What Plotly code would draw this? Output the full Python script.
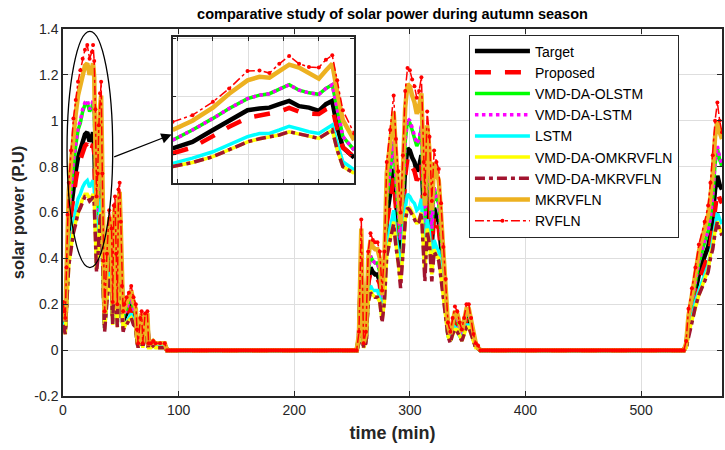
import plotly.graph_objects as go

# ------------------------------------------------------------------ data
seg1_time = [0, 1, 2, 3, 4, 5, 7, 9, 11, 13, 15, 17, 19, 21, 23, 25, 26, 27, 28, 29, 30, 31, 32, 33, 34, 35, 36,
             38, 40, 42, 43, 44, 45, 46, 47, 48, 49, 50, 51, 52, 53, 55, 57, 59, 61, 63, 64, 65, 67, 68, 69,
             71, 73, 74, 76, 78, 80, 84, 88, 90]
seg2_time = [254, 256, 258, 260, 262, 264, 266, 268, 270, 272, 274, 276, 278, 280, 283, 286, 288, 290, 292,
             294, 296, 298, 300, 302, 304, 306, 308, 310, 312, 313, 315, 317, 319, 321, 323, 325, 327, 329,
             331, 333, 335, 337, 339, 341, 343, 345, 347, 349, 351, 353, 355, 357, 359, 361]
seg3_time = [537, 539, 541, 544, 547, 550, 555, 558, 560, 562, 564, 566, 568, 570]
night1_time = list(range(92, 254, 2))
night2_time = list(range(363, 537, 2))

target_1 = [0.15, 0.12, 0.10, 0.25, 0.42, 0.52, 0.62, 0.72, 0.78, 0.84, 0.87, 0.91, 0.94, 0.95, 0.91, 0.93, 0.95, 0.90, 0.75, 0.48, 0.55, 0.70, 0.80, 0.84, 0.55, 0.28, 0.12,
            0.30, 0.44, 0.38, 0.15, 0.45, 0.48, 0.30, 0.14, 0.50, 0.52, 0.40, 0.20, 0.12, 0.14, 0.16, 0.18, 0.20, 0.16, 0.14, 0.06, 0.02, 0.10, 0.12, 0.02, 0.11, 0.12, 0.02, 0.02, 0.03, 0.02, 0.02, 0.02, 0.00]
target_2 = [0.00, 0.05, 0.40, 0.02, 0.05, 0.30, 0.36, 0.34, 0.33, 0.33, 0.30, 0.18, 0.30, 0.58, 0.68, 0.79, 0.65, 0.55, 0.42, 0.60, 0.80, 0.88, 0.87, 0.84, 0.82, 0.78, 0.80,
            0.85, 0.58, 0.48, 0.74, 0.66, 0.46, 0.62, 0.58, 0.56, 0.45, 0.32, 0.22, 0.08, 0.05, 0.10, 0.13, 0.12, 0.08, 0.06, 0.10, 0.14, 0.14, 0.10, 0.05, 0.02, 0.01, 0.00]
target_3 = [0.00, 0.02, 0.10, 0.18, 0.26, 0.33, 0.41, 0.45, 0.50, 0.58, 0.70, 0.76, 0.72, 0.70]

proposed_1 = [0.14, 0.11, 0.10, 0.24, 0.40, 0.49, 0.59, 0.68, 0.74, 0.80, 0.83, 0.86, 0.89, 0.90, 0.86, 0.88, 0.90, 0.86, 0.71, 0.46, 0.52, 0.67, 0.76, 0.80, 0.52, 0.27, 0.11,
              0.29, 0.42, 0.36, 0.14, 0.43, 0.46, 0.29, 0.13, 0.48, 0.49, 0.38, 0.19, 0.11, 0.13, 0.15, 0.17, 0.19, 0.15, 0.13, 0.06, 0.02, 0.10, 0.11, 0.02, 0.10, 0.11, 0.02, 0.02, 0.03, 0.02, 0.02, 0.02, 0.00]
proposed_2 = [0.00, 0.05, 0.38, 0.02, 0.05, 0.29, 0.34, 0.32, 0.31, 0.31, 0.29, 0.17, 0.29, 0.55, 0.65, 0.75, 0.62, 0.52, 0.40, 0.57, 0.76, 0.84, 0.83, 0.80, 0.78, 0.74, 0.76,
              0.81, 0.55, 0.46, 0.70, 0.63, 0.44, 0.59, 0.55, 0.53, 0.43, 0.30, 0.21, 0.08, 0.05, 0.10, 0.12, 0.11, 0.08, 0.06, 0.10, 0.13, 0.13, 0.10, 0.05, 0.02, 0.01, 0.00]
proposed_3 = [0.00, 0.02, 0.09, 0.16, 0.24, 0.30, 0.37, 0.41, 0.46, 0.53, 0.63, 0.69, 0.66, 0.64]

olstm_1 = [0.17, 0.14, 0.11, 0.29, 0.48, 0.59, 0.71, 0.82, 0.89, 0.96, 0.99, 1.04, 1.07, 1.08, 1.04, 1.06, 1.08, 1.03, 0.86, 0.55, 0.63, 0.80, 0.91, 0.96, 0.63, 0.32, 0.14,
           0.34, 0.50, 0.43, 0.17, 0.51, 0.55, 0.34, 0.16, 0.57, 0.59, 0.46, 0.23, 0.14, 0.16, 0.18, 0.21, 0.23, 0.18, 0.16, 0.07, 0.02, 0.11, 0.14, 0.02, 0.13, 0.14, 0.02, 0.02, 0.03, 0.02, 0.02, 0.02, 0.00]
olstm_2 = [0.00, 0.06, 0.46, 0.02, 0.06, 0.34, 0.41, 0.39, 0.38, 0.38, 0.34, 0.21, 0.34, 0.66, 0.78, 0.90, 0.74, 0.63, 0.48, 0.68, 0.91, 1.00, 0.99, 0.96, 0.93, 0.89, 0.91,
           0.97, 0.66, 0.55, 0.84, 0.75, 0.52, 0.71, 0.66, 0.64, 0.51, 0.36, 0.25, 0.09, 0.06, 0.11, 0.15, 0.14, 0.09, 0.07, 0.11, 0.16, 0.16, 0.11, 0.06, 0.02, 0.01, 0.00]
olstm_3 = [0.00, 0.02, 0.12, 0.21, 0.30, 0.38, 0.47, 0.52, 0.58, 0.67, 0.81, 0.88, 0.83, 0.80]

vlstm_1 = [0.17, 0.14, 0.12, 0.29, 0.48, 0.60, 0.71, 0.83, 0.90, 0.97, 1.00, 1.05, 1.08, 1.09, 1.05, 1.07, 1.09, 1.04, 0.86, 0.55, 0.63, 0.81, 0.92, 0.97, 0.63, 0.32, 0.14,
           0.35, 0.51, 0.44, 0.17, 0.52, 0.55, 0.35, 0.16, 0.58, 0.60, 0.46, 0.23, 0.14, 0.16, 0.18, 0.21, 0.23, 0.18, 0.16, 0.07, 0.02, 0.12, 0.14, 0.02, 0.13, 0.14, 0.02, 0.02, 0.03, 0.02, 0.02, 0.02, 0.00]
vlstm_2 = [0.00, 0.06, 0.46, 0.02, 0.06, 0.35, 0.41, 0.39, 0.38, 0.38, 0.35, 0.21, 0.35, 0.67, 0.78, 0.91, 0.75, 0.63, 0.48, 0.69, 0.92, 1.01, 1.00, 0.97, 0.94, 0.90, 0.92,
           0.98, 0.67, 0.55, 0.85, 0.76, 0.53, 0.71, 0.67, 0.64, 0.52, 0.37, 0.25, 0.09, 0.06, 0.12, 0.15, 0.14, 0.09, 0.07, 0.12, 0.16, 0.16, 0.12, 0.06, 0.02, 0.01, 0.00]
vlstm_3 = [0.00, 0.02, 0.12, 0.21, 0.30, 0.39, 0.48, 0.52, 0.58, 0.68, 0.82, 0.89, 0.84, 0.81]

lstm_1 = [0.12, 0.10, 0.08, 0.20, 0.33, 0.41, 0.48, 0.56, 0.61, 0.66, 0.68, 0.71, 0.73, 0.74, 0.71, 0.73, 0.74, 0.70, 0.59, 0.37, 0.43, 0.55, 0.62, 0.66, 0.43, 0.22, 0.09,
          0.23, 0.34, 0.30, 0.12, 0.35, 0.37, 0.23, 0.11, 0.39, 0.41, 0.31, 0.16, 0.09, 0.11, 0.12, 0.14, 0.16, 0.12, 0.11, 0.05, 0.02, 0.08, 0.09, 0.02, 0.09, 0.09, 0.02, 0.02, 0.02, 0.02, 0.02, 0.02, 0.00]
lstm_2 = [0.00, 0.04, 0.31, 0.02, 0.04, 0.23, 0.28, 0.26, 0.26, 0.26, 0.23, 0.14, 0.23, 0.45, 0.53, 0.61, 0.50, 0.43, 0.33, 0.47, 0.62, 0.68, 0.67, 0.65, 0.64, 0.61, 0.62,
          0.66, 0.45, 0.37, 0.57, 0.51, 0.36, 0.48, 0.45, 0.43, 0.35, 0.25, 0.17, 0.06, 0.04, 0.08, 0.10, 0.09, 0.06, 0.05, 0.08, 0.11, 0.11, 0.08, 0.04, 0.02, 0.01, 0.00]
lstm_3 = [0.00, 0.02, 0.08, 0.14, 0.21, 0.26, 0.33, 0.37, 0.42, 0.48, 0.55, 0.60, 0.57, 0.55]

omk_1 = [0.11, 0.09, 0.07, 0.18, 0.30, 0.37, 0.45, 0.52, 0.56, 0.60, 0.63, 0.66, 0.68, 0.68, 0.66, 0.67, 0.68, 0.65, 0.54, 0.35, 0.40, 0.50, 0.58, 0.60, 0.40, 0.20, 0.09,
         0.22, 0.32, 0.27, 0.11, 0.32, 0.35, 0.22, 0.10, 0.36, 0.37, 0.29, 0.14, 0.09, 0.10, 0.12, 0.13, 0.14, 0.12, 0.10, 0.04, 0.01, 0.07, 0.09, 0.01, 0.08, 0.09, 0.01, 0.01, 0.02, 0.01, 0.01, 0.01, 0.00]
omk_2 = [0.00, 0.04, 0.29, 0.01, 0.04, 0.21, 0.26, 0.24, 0.23, 0.23, 0.21, 0.13, 0.21, 0.41, 0.48, 0.56, 0.46, 0.39, 0.30, 0.43, 0.57, 0.62, 0.62, 0.60, 0.58, 0.55, 0.57,
         0.60, 0.41, 0.34, 0.53, 0.47, 0.33, 0.44, 0.41, 0.40, 0.32, 0.23, 0.16, 0.06, 0.04, 0.07, 0.09, 0.09, 0.06, 0.04, 0.07, 0.10, 0.10, 0.07, 0.04, 0.01, 0.01, 0.00]
omk_3 = [0.00, 0.01, 0.07, 0.13, 0.19, 0.24, 0.31, 0.35, 0.42, 0.45, 0.52, 0.56, 0.53, 0.51]

vmk_1 = [0.11, 0.08, 0.07, 0.18, 0.30, 0.37, 0.44, 0.51, 0.55, 0.60, 0.62, 0.65, 0.67, 0.67, 0.65, 0.66, 0.67, 0.64, 0.53, 0.34, 0.39, 0.50, 0.57, 0.60, 0.39, 0.20, 0.08,
         0.21, 0.31, 0.27, 0.11, 0.32, 0.34, 0.21, 0.10, 0.35, 0.37, 0.28, 0.14, 0.08, 0.10, 0.11, 0.13, 0.14, 0.11, 0.10, 0.04, 0.01, 0.07, 0.08, 0.01, 0.08, 0.08, 0.01, 0.01, 0.02, 0.01, 0.01, 0.01, 0.00]
vmk_2 = [0.00, 0.03, 0.28, 0.01, 0.03, 0.21, 0.25, 0.24, 0.23, 0.23, 0.21, 0.12, 0.21, 0.41, 0.48, 0.55, 0.45, 0.38, 0.27, 0.42, 0.56, 0.62, 0.61, 0.59, 0.57, 0.55, 0.56,
         0.60, 0.40, 0.30, 0.52, 0.46, 0.30, 0.43, 0.41, 0.39, 0.31, 0.22, 0.15, 0.06, 0.03, 0.07, 0.09, 0.08, 0.06, 0.04, 0.07, 0.10, 0.10, 0.07, 0.03, 0.01, 0.01, 0.00]
vmk_3 = [0.00, 0.01, 0.06, 0.12, 0.19, 0.24, 0.30, 0.34, 0.40, 0.44, 0.51, 0.56, 0.52, 0.50]

mk_1 = [0.20, 0.16, 0.13, 0.33, 0.55, 0.69, 0.82, 0.95, 1.03, 1.11, 1.15, 1.20, 1.24, 1.25, 1.20, 1.23, 1.25, 1.19, 0.99, 0.63, 0.73, 0.92, 1.06, 1.11, 0.73, 0.37, 0.16,
        0.40, 0.58, 0.50, 0.20, 0.59, 0.63, 0.40, 0.18, 0.66, 0.69, 0.53, 0.26, 0.16, 0.18, 0.21, 0.24, 0.26, 0.21, 0.18, 0.08, 0.03, 0.13, 0.16, 0.03, 0.15, 0.16, 0.03, 0.03, 0.04, 0.03, 0.03, 0.03, 0.00]
mk_2 = [0.00, 0.07, 0.53, 0.03, 0.07, 0.40, 0.48, 0.45, 0.44, 0.44, 0.40, 0.24, 0.40, 0.77, 0.90, 1.04, 0.86, 0.73, 0.55, 0.79, 1.06, 1.16, 1.15, 1.11, 1.08, 1.03, 1.06,
        1.12, 0.77, 0.63, 0.98, 0.87, 0.61, 0.82, 0.77, 0.74, 0.59, 0.42, 0.29, 0.11, 0.07, 0.13, 0.17, 0.16, 0.11, 0.08, 0.13, 0.18, 0.18, 0.13, 0.07, 0.03, 0.01, 0.00]
mk_3 = [0.00, 0.03, 0.15, 0.24, 0.34, 0.43, 0.53, 0.59, 0.67, 0.77, 0.93, 1.00, 0.95, 0.92]

rv_1 = [0.21, 0.17, 0.14, 0.36, 0.59, 0.73, 0.87, 1.01, 1.09, 1.17, 1.22, 1.27, 1.31, 1.33, 1.27, 1.30, 1.33, 1.26, 1.05, 0.67, 0.77, 0.98, 1.12, 1.17, 0.77, 0.39, 0.17,
        0.42, 0.61, 0.53, 0.21, 0.63, 0.67, 0.42, 0.20, 0.70, 0.73, 0.56, 0.28, 0.17, 0.20, 0.23, 0.25, 0.28, 0.23, 0.20, 0.09, 0.03, 0.14, 0.17, 0.03, 0.16, 0.17, 0.03, 0.03, 0.04, 0.03, 0.03, 0.03, 0.00]
rv_2 = [0.00, 0.08, 0.57, 0.03, 0.08, 0.43, 0.51, 0.48, 0.47, 0.47, 0.43, 0.26, 0.43, 0.82, 0.96, 1.11, 0.92, 0.78, 0.60, 0.85, 1.13, 1.23, 1.22, 1.18, 1.15, 1.10, 1.13,
        1.19, 0.82, 0.68, 1.04, 0.93, 0.65, 0.87, 0.82, 0.79, 0.64, 0.45, 0.31, 0.12, 0.08, 0.14, 0.19, 0.17, 0.12, 0.09, 0.14, 0.20, 0.20, 0.14, 0.07, 0.03, 0.02, 0.00]
rv_3 = [0.00, 0.04, 0.18, 0.27, 0.36, 0.46, 0.56, 0.63, 0.73, 0.85, 1.00, 1.08, 1.00, 0.95]

# zoomed (inset) view of the first peak
inset_time = [9.3, 12.1, 15.0, 17.3, 19.9, 21.6, 23.0, 24.4, 25.8, 27.2, 28.6, 30.0, 31.0, 31.9, 32.6, 33.4, 35.0]
inset_target = [0.823, 0.845, 0.886, 0.920, 0.954, 0.960, 0.963, 0.975, 0.986, 0.968, 0.963, 0.952, 0.975, 0.986, 0.897, 0.826, 0.791]
inset_proposed = [0.806, 0.826, 0.865, 0.897, 0.928, 0.937, 0.941, 0.949, 0.962, 0.949, 0.943, 0.941, 0.957, 0.966, 0.886, 0.826, 0.792]
inset_olstm = [0.851, 0.886, 0.926, 0.960, 0.994, 1.006, 1.011, 1.025, 1.042, 1.023, 1.014, 1.009, 1.029, 1.042, 0.954, 0.863, 0.817]
inset_vlstm = [0.851, 0.886, 0.926, 0.960, 0.994, 1.006, 1.011, 1.025, 1.042, 1.023, 1.014, 1.009, 1.029, 1.042, 0.954, 0.863, 0.817]
inset_lstm = [0.771, 0.789, 0.811, 0.834, 0.863, 0.874, 0.874, 0.886, 0.899, 0.890, 0.880, 0.874, 0.891, 0.903, 0.840, 0.777, 0.749]
inset_omk = [0.760, 0.774, 0.794, 0.817, 0.845, 0.856, 0.861, 0.869, 0.880, 0.874, 0.865, 0.857, 0.874, 0.886, 0.817, 0.760, 0.737]
inset_vmk = [0.760, 0.774, 0.794, 0.817, 0.845, 0.856, 0.861, 0.869, 0.880, 0.874, 0.865, 0.857, 0.874, 0.886, 0.817, 0.760, 0.737]
inset_mk = [0.886, 0.918, 0.963, 1.011, 1.057, 1.069, 1.066, 1.089, 1.111, 1.101, 1.080, 1.063, 1.091, 1.114, 1.017, 0.920, 0.851]
inset_rv = [0.914, 0.937, 0.983, 1.029, 1.089, 1.091, 1.082, 1.114, 1.141, 1.114, 1.103, 1.101, 1.128, 1.143, 1.057, 0.954, 0.874]

y_ticks = [-0.2, 0, 0.2, 0.4, 0.6, 0.8, 1.0, 1.2, 1.4]
y_tick_text = ["-0.2", "0", "0.2", "0.4", "0.6", "0.8", "1", "1.2", "1.4"]
x_ticks = [0, 100, 200, 300, 400, 500]

# ------------------------------------------------------------------ build
full_time = seg1_time + night1_time + seg2_time + night2_time + seg3_time


def full(s1, s2, s3):
    return s1 + [0.0] * len(night1_time) + s2 + [0.0] * len(night2_time) + s3


series = [
    ("Target", full(target_1, target_2, target_3), inset_target,
     dict(color="#000000", width=4.5), None),
    ("Proposed", full(proposed_1, proposed_2, proposed_3), inset_proposed,
     dict(color="#ff0000", width=4.5, dash="16px,14px"), None),
    ("VMD-DA-OLSTM", full(olstm_1, olstm_2, olstm_3), inset_olstm,
     dict(color="#00ff00", width=3.5), None),
    ("VMD-DA-LSTM", full(vlstm_1, vlstm_2, vlstm_3), inset_vlstm,
     dict(color="#ff00ff", width=3.5, dash="dot"), None),
    ("LSTM", full(lstm_1, lstm_2, lstm_3), inset_lstm,
     dict(color="#00ffff", width=3.5), None),
    ("VMD-DA-OMKRVFLN", full(omk_1, omk_2, omk_3), inset_omk,
     dict(color="#ffff00", width=3.5), None),
    ("VMD-DA-MKRVFLN", full(vmk_1, vmk_2, vmk_3), inset_vmk,
     dict(color="#a2142f", width=3.5, dash="10px,4px,4px,4px"), None),
    ("MKRVFLN", full(mk_1, mk_2, mk_3), inset_mk,
     dict(color="#edb120", width=4.5), None),
    ("RVFLN", full(rv_1, rv_2, rv_3), inset_rv,
     dict(color="#ff0000", width=1.5, dash="dashdot"), dict(color="#ff0000", size=4)),
]

fig = go.Figure()
for name, vals, ivals, line, marker in series:
    mode = "lines+markers" if marker else "lines"
    fig.add_trace(go.Scatter(x=full_time, y=vals, name=name, mode=mode, line=line,
                             marker=marker, xaxis="x", yaxis="y"))
for name, vals, ivals, line, marker in series:
    mode = "lines+markers" if marker else "lines"
    fig.add_trace(go.Scatter(x=inset_time, y=ivals, name=name, mode=mode, line=line,
                             marker=marker, xaxis="x2", yaxis="y2", showlegend=False))

axis_col = "#262626"
fig.update_layout(
    width=725, height=450,
    margin=dict(l=63, r=1, t=29, b=54),
    paper_bgcolor="white", plot_bgcolor="white",
    font=dict(family="Arial, Liberation Sans, sans-serif", size=14, color=axis_col),
    title=dict(text="<b>comparative study of solar power during autumn season</b>",
               x=0.5, xref="paper", y=1 - 14 / 450, yref="container", yanchor="middle",
               font=dict(size=14.5, color="#000000")),
    xaxis=dict(range=[0, 570], tickvals=x_ticks, ticks="inside", ticklen=5, tickcolor=axis_col,
               showline=True, mirror="ticks", linecolor=axis_col, linewidth=1.5,
               showgrid=True, gridcolor="#dedede", gridwidth=1, zeroline=False,
               tickfont=dict(size=14),
               title=dict(text="<b>time (min)</b>", font=dict(size=18, color="#262626"), standoff=10)),
    yaxis=dict(range=[-0.2, 1.4], tickvals=y_ticks, ticktext=y_tick_text, ticks="inside", ticklen=5,
               tickcolor=axis_col, showline=True, mirror="ticks", linecolor=axis_col, linewidth=1.5,
               showgrid=True, gridcolor="#dedede", gridwidth=1, zeroline=False,
               tickfont=dict(size=14),
               title=dict(text="<b>solar power (P.U)</b>", font=dict(size=16.5, color="#262626"), standoff=6)),
    xaxis2=dict(domain=[0.1664, 0.4418], anchor="y2", range=[9.3, 35], tickvals=[10, 15, 20, 25, 30, 35],
                showticklabels=False, ticks="inside", ticklen=4, tickcolor=axis_col, showline=True,
                mirror="ticks", linecolor=axis_col, linewidth=1.5, showgrid=True, gridcolor="#dedede",
                zeroline=False, fixedrange=True),
    yaxis2=dict(domain=[0.580, 0.978], anchor="x2", range=[0.703, 1.206], tickvals=[0.8, 1.0, 1.2],
                showticklabels=False, ticks="inside", ticklen=4, tickcolor=axis_col, showline=True,
                mirror="ticks", linecolor=axis_col, linewidth=1.5, showgrid=True, gridcolor="#dedede",
                zeroline=False, fixedrange=True),
    legend=dict(x=0.616, y=0.985, xanchor="left", yanchor="top", bgcolor="white",
                bordercolor=axis_col, borderwidth=1, font=dict(size=14, color="#000000"),
                itemwidth=55, tracegroupgap=0),
    showlegend=True,
)

# white background behind inset
fig.add_shape(type="rect", xref="x2 domain", yref="y2 domain", x0=0, x1=1, y0=0, y1=1,
              fillcolor="white", line=dict(width=0), layer="below")
# ellipse marking zoomed region
fig.add_shape(type="circle", xref="x", yref="y", x0=3.5, x1=43, y0=0.36, y1=1.39,
              line=dict(color="#000000", width=1.3))
# arrow to the inset
fig.add_annotation(x=94, y=0.94, ax=43, ay=0.84, xref="x", yref="y", axref="x", ayref="y",
                   showarrow=True, arrowhead=2, arrowsize=1.6, arrowwidth=1.3, arrowcolor="#000000", text="")

fig.write_html("out.html")
